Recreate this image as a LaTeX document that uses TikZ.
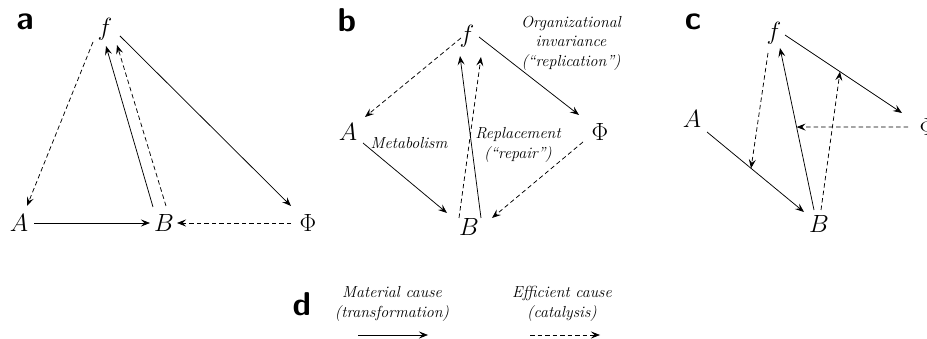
\documentclass[tikz,border=0pt]{standalone}
\usepackage{fontspec}
\usetikzlibrary{arrows.meta,calc}
\begin{document}
\begin{tikzpicture}[x=1pt,y=-1pt,
  var/.style={inner sep=0pt,font=\fontsize{26}{26}\selectfont},
  panel/.style={inner sep=0pt,font=\fontsize{33}{33}\selectfont\sffamily\bfseries},
  lab/.style={inner sep=0pt,align=center,font=\fontsize{16}{19.5}\selectfont\itshape},
  mat/.style={line width=0.75pt,-{Stealth[length=9pt,width=7pt,inset=3.5pt]}},
  eff/.style={mat,dashed,dash pattern=on 4.5pt off 3pt}]
\useasboundingbox (0,0) rectangle (927,339);
% panel labels
\node[panel] (la) at (25,22) {a};
\node[panel] (lb) at (347,20) {b};
\node[panel] (lc) at (693,22) {c};
\node[panel] (ld) at (302,304) {d};
% ---- panel a
\node[var] (fa) at (105,29) {$f$};
\node[var] (Aa) at (19,223) {$A$};
\node[var] (Ba) at (164,223) {$B$};
\node[var] (Pa) at (308,223) {$\Phi$};
\draw[eff] ($(fa)+(-12,13)$) -- ($(Aa)+(8,-17)$);
\draw[mat] ($(Ba)+(-11,-16)$) -- ($(fa)+(1,17)$);
\draw[eff] ($(Ba)+(2,-17)$) -- ($(fa)+(12,16)$);
\draw[mat] ($(fa)+(15,7)$) -- ($(Pa)+(-17,-17)$);
\draw[mat] ($(Aa)+(15,0)$) -- ($(Ba)+(-14,0)$);
\draw[eff] ($(Pa)+(-17,0)$) -- ($(Ba)+(13,0)$);
% ---- panel b
\node[var] (fb) at (467,36) {$f$};
\node[var] (Ab) at (348,132) {$A$};
\node[var] (Pb) at (600,132) {$\Phi$};
\node[var] (Bb) at (469,227) {$B$};
\node[lab] (tOI) at (571,43) {Organizational\\invariance\\(“replication”)};
\node[lab] (tMe) at (409,143) {Metabolism};
\node[lab] (tRe) at (518,145) {Replacement\\(“repair”)};
\draw[eff] ($(fb)+(-6,2)$) -- ($(Ab)+(17,-15)$);
\draw[mat] ($(Ab)+(15,11)$) -- ($(Bb)+(-22,-14)$);
\draw[mat] ($(Bb)+(12,-9)$) -- ($(fb)+(-7,20)$);
\draw[eff] ($(Bb)+(-10,-9)$) -- ($(fb)+(14,21)$);
\draw[mat] ($(fb)+(12,1)$) -- ($(Pb)+(-21,-17)$);
\draw[eff] ($(Pb)+(-17,10)$) -- ($(Bb)+(23,-9)$);
% ---- panel c
\node[var] (fc) at (774,33) {$f$};
\node[var] (Ac) at (692,119) {$A$};
\node[var] (Pc) at (928,127) {$\Phi$};
\node[var] (Bc) at (819,224) {$B$};
\draw[mat] ($(fc)+(11,2)$) -- coordinate[pos=0.47] (mfP) ($(Pc)+(-26,-14)$);
\draw[mat] ($(Ac)+(15,13)$) -- coordinate[pos=0.454] (mAB) ($(Bc)+(-15,-12)$);
\draw[mat] ($(Bc)+(-5,-14)$) -- coordinate[pos=0.512] (mBf) ($(fc)+(6,15)$);
\draw[eff] ($(Bc)+(2,-14)$) -- (mfP);
\draw[eff] ($(Pc)+(-20,0)$) -- (mBf);
\draw[eff] ($(fc)+(-6,20)$) -- (mAB);
% ---- panel d
\node[lab] (tMat) at (392,304) {Material cause\\(transformation)};
\node[lab] (tEff) at (562,304) {Efficient cause\\(catalysis)};
\coordinate (m1) at (358,335);
\coordinate (m2) at (428,335);
\coordinate (e1) at (530,335);
\coordinate (e2) at (600,335);
\draw[mat] (m1) -- (m2);
\draw[eff] (e1) -- (e2);
\end{tikzpicture}
\end{document}
